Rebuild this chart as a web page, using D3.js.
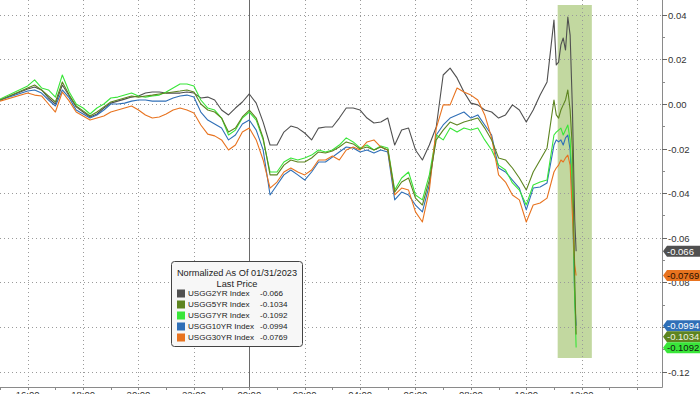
<!DOCTYPE html>
<html><head><meta charset="utf-8">
<script src="https://cdn.jsdelivr.net/npm/d3@7"></script>
<style>html,body{margin:0;padding:0;background:#fff;overflow:hidden}svg{display:block;font-family:"Liberation Sans",Arial,sans-serif}</style>
</head><body><svg id="c" width="700" height="394"></svg>
<script>
// ---------- DATA ----------
const times = ["15:00",
"16:00","16:15","16:30","16:45","17:00","17:15","17:30","17:45","18:00","18:15","18:30","18:45","19:00","19:15","19:30","19:45",
"20:00","20:15","20:30","20:45","21:00","21:15","21:30","21:45","22:00","22:15","22:30","22:45","23:00","23:15","23:30","23:45",
"00:00","00:15","00:30","00:45","01:00","01:15","01:30","01:45","02:00","02:15","02:30","02:45","03:00","03:15","03:30","03:45",
"04:00","04:15","04:30","04:45","05:00","05:15","05:30","05:45","06:00","06:15","06:30","06:45","07:00","07:15","07:30","07:45",
"08:00","08:15","08:30","08:45","09:00","09:15","09:30","09:45","10:00","10:15","10:30","10:45",
"11:00","11:05","11:10","11:15","11:20","11:25","11:30","11:35","11:40","11:45","11:48"];

const usgg2yr = [0.0018,
0.0067,0.0076,0.0063,0.0027,0.0000,0.0085,0.0036,-0.0013,-0.0036,-0.0058,
-0.0045,-0.0018,0.0004,0.0013,0.0022,0.0031,0.0036,0.0049,0.0054,0.0054,
0.0049,0.0049,0.0049,0.0054,0.0049,0.0027,0.0031,0.0018,-0.0027,-0.0049,
-0.0018,0.0009,0.0045,0.0004,-0.0081,-0.0184,-0.0184,-0.0126,-0.0099,-0.0108,
-0.0130,-0.0161,-0.0108,-0.0103,-0.0103,-0.0063,-0.0018,-0.0018,-0.0027,-0.0063,
-0.0085,-0.0081,-0.0063,-0.0184,-0.0117,-0.0108,-0.0206,-0.0251,-0.0184,-0.0103,
0.0130,0.0161,0.0117,0.0054,0.0004,-0.0004,-0.0027,-0.0036,-0.0063,-0.0049,
-0.0004,-0.0027,-0.0081,-0.0027,0.0040,0.0099,
0.0377,0.0175,0.0188,0.0265,0.0296,0.0242,0.0390,0.0309,-0.0027,-0.0520,-0.066];

const usgg5yr = [0.0018,
0.0072,0.0085,0.0063,0.0036,0.0009,0.0099,0.0040,-0.0009,-0.0031,-0.0054,
-0.0036,-0.0013,0.0009,0.0018,0.0027,0.0036,0.0031,0.0036,0.0040,0.0045,
0.0049,0.0054,0.0058,0.0063,0.0054,0.0000,-0.0027,-0.0036,-0.0063,-0.0126,
-0.0108,-0.0058,-0.0027,-0.0063,-0.0152,-0.0318,-0.0318,-0.0274,-0.0251,-0.0260,
-0.0260,-0.0242,-0.0215,-0.0220,-0.0211,-0.0193,-0.0170,-0.0179,-0.0202,-0.0193,
-0.0206,-0.0193,-0.0206,-0.0395,-0.0350,-0.0332,-0.0422,-0.0453,-0.0341,-0.0161,
-0.0117,-0.0081,-0.0094,-0.0081,-0.0072,-0.0063,-0.0108,-0.0161,-0.0242,-0.0251,
-0.0287,-0.0332,-0.0386,-0.0305,-0.0251,-0.0197,
0.0018,-0.0049,-0.0063,-0.0027,-0.0004,0.0018,0.0063,-0.0027,-0.0206,-0.0789,-0.1034];

const usgg7yr = [0.0022,
0.0081,0.0108,0.0072,0.0063,0.0031,0.0130,0.0054,0.0000,-0.0018,-0.0045,
-0.0018,0.0000,0.0027,0.0031,0.0040,0.0049,0.0036,0.0031,0.0036,0.0040,
0.0054,0.0072,0.0090,0.0090,0.0081,0.0018,-0.0018,-0.0027,-0.0063,-0.0139,
-0.0117,-0.0063,-0.0036,-0.0072,-0.0161,-0.0305,-0.0305,-0.0260,-0.0242,-0.0251,
-0.0242,-0.0229,-0.0206,-0.0215,-0.0206,-0.0184,-0.0152,-0.0170,-0.0197,-0.0184,
-0.0206,-0.0188,-0.0197,-0.0386,-0.0332,-0.0305,-0.0408,-0.0430,-0.0318,-0.0139,
-0.0161,-0.0108,-0.0126,-0.0108,-0.0117,-0.0108,-0.0161,-0.0206,-0.0274,-0.0296,
-0.0354,-0.0386,-0.0453,-0.0363,-0.0350,-0.0341,
-0.0139,-0.0126,-0.0117,-0.0108,-0.0139,-0.0117,-0.0094,-0.0161,-0.0386,-0.0879,-0.1092];

const usgg10yr = [0.0018,
0.0058,0.0063,0.0049,0.0018,-0.0009,0.0063,0.0027,-0.0027,-0.0045,-0.0063,
-0.0049,-0.0027,0.0000,0.0000,0.0004,0.0013,0.0018,0.0018,0.0013,0.0013,
0.0013,0.0027,0.0036,0.0040,0.0031,-0.0036,-0.0072,-0.0090,-0.0108,-0.0161,
-0.0139,-0.0090,-0.0072,-0.0117,-0.0206,-0.0408,-0.0363,-0.0318,-0.0296,-0.0318,
-0.0341,-0.0305,-0.0260,-0.0260,-0.0238,-0.0215,-0.0193,-0.0197,-0.0215,-0.0206,
-0.0220,-0.0206,-0.0215,-0.0430,-0.0395,-0.0408,-0.0453,-0.0484,-0.0363,-0.0139,
-0.0094,-0.0063,-0.0049,-0.0036,-0.0063,-0.0049,-0.0094,-0.0139,-0.0287,-0.0305,
-0.0341,-0.0377,-0.0475,-0.0377,-0.0372,-0.0354,
-0.0184,-0.0161,-0.0170,-0.0161,-0.0184,-0.0152,-0.0139,-0.0206,-0.0430,-0.0879,-0.0994];

const usgg30yr = [0.0013,
0.0049,0.0040,0.0036,0.0000,-0.0036,0.0054,0.0013,-0.0036,-0.0054,-0.0072,
-0.0063,-0.0054,-0.0036,-0.0027,-0.0018,-0.0009,-0.0027,-0.0049,-0.0063,-0.0058,
-0.0045,-0.0027,-0.0018,-0.0027,-0.0040,-0.0094,-0.0135,-0.0143,-0.0161,-0.0206,
-0.0184,-0.0126,-0.0108,-0.0161,-0.0251,-0.0377,-0.0350,-0.0305,-0.0287,-0.0305,
-0.0318,-0.0296,-0.0251,-0.0251,-0.0233,-0.0251,-0.0206,-0.0193,-0.0206,-0.0170,
-0.0161,-0.0193,-0.0206,-0.0408,-0.0377,-0.0386,-0.0484,-0.0529,-0.0386,-0.0108,
-0.0004,-0.0004,0.0072,0.0054,0.0040,0.0018,-0.0049,-0.0152,-0.0318,-0.0350,
-0.0408,-0.0430,-0.0529,-0.0453,-0.0444,-0.0422,
-0.0305,-0.0287,-0.0274,-0.0251,-0.0260,-0.0242,-0.0229,-0.0274,-0.0498,-0.0722,-0.0769];

const seriesNames = ["USGG2YR Index","USGG5YR Index","USGG7YR Index","USGG10YR Index","USGG30YR Index"];
const lastPrices = ["-0.066","-0.1034","-0.1092","-0.0994","-0.0769"];
const xTickLabels = ["16:00","18:00","20:00","22:00","00:00","02:00","04:00","06:00","08:00","10:00","12:00"];
const xGridExtra = ["14:00"];
const yTicks = [0.04,0.02,0.00,-0.02,-0.04,-0.06,-0.08,-0.10,-0.12];
const legendTitle = ["Normalized As Of 01/31/2023","Last Price"];
const highlightSpan = ["11:08","12:22"];
const highlightRange = [0.0444,-0.1139];
const dayBreak = "00:00";

// ---------- STYLE ----------
const colors = ["#505050","#5d8420","#39e639","#2f6fb7","#e8731f"];
const labelText = ["#ffffff","#f0f0e0","#102010","#ffffff","#2a1000"];
const W = 700, H = 394, plotR = 662, plotB = 387;

function parseT(s){const [h,m]=s.split(":").map(Number);return new Date(2023,0,h>=15?30:31,h,m);}

const svg = d3.select("#c");
const x = d3.scaleTime().domain([new Date(2023,0,30,15,0), new Date(2023,0,31,14,54)]).range([0, plotR]);
const y = d3.scaleLinear().domain([-0.12691, 0.04664]).range([plotB, 0]);

// highlight
svg.append("rect")
  .attr("x", x(parseT(highlightSpan[0]))).attr("y", y(highlightRange[0]))
  .attr("width", x(parseT(highlightSpan[1])) - x(parseT(highlightSpan[0])))
  .attr("height", y(highlightRange[1]) - y(highlightRange[0]))
  .attr("fill", "#c2d8a0");

// gridlines
const g = svg.append("g");
yTicks.forEach(v => {
  g.append("line").attr("x1",0).attr("x2",plotR).attr("y1",Math.round(y(v))+0.5).attr("y2",Math.round(y(v))+0.5)
   .attr("stroke","#9a9a9a").attr("stroke-width",1).attr("stroke-dasharray","1,3");
});
xTickLabels.concat(xGridExtra).forEach(t => {
  const px = Math.round(x(parseT(t)))+0.5;
  g.append("line").attr("x1",px).attr("x2",px).attr("y1",0).attr("y2",plotB)
   .attr("stroke","#9a9a9a").attr("stroke-width",1).attr("stroke-dasharray","1,3");
});
// day break
const db = Math.round(x(parseT(dayBreak)))+0.5;
svg.append("line").attr("x1",db).attr("x2",db).attr("y1",0).attr("y2",plotB).attr("stroke","#6a6a6a").attr("stroke-width",1);

// lines
const data = [usgg2yr, usgg5yr, usgg7yr, usgg10yr, usgg30yr];
const tDates = times.map(parseT);
const line = d3.line().x((d,i)=>x(tDates[i])).y(d=>y(d));
[0,3,2,4,1].forEach(k => {
  svg.append("path").datum(data[k]).attr("d", line).attr("fill","none")
    .attr("stroke", colors[k]).attr("stroke-width",1.1).attr("stroke-linejoin","round");
});

// axes
svg.append("line").attr("x1",plotR+0.5).attr("x2",plotR+0.5).attr("y1",0).attr("y2",plotB+0.5).attr("stroke","#8a8a8a");
svg.append("line").attr("x1",0).attr("x2",plotR+0.5).attr("y1",plotB+0.5).attr("y2",plotB+0.5).attr("stroke","#8a8a8a");
const yMinor = d3.range(-0.12, 0.0401, 0.01);
yMinor.forEach(v => {
  const py = Math.round(y(v))+0.5;
  svg.append("line").attr("x1",plotR).attr("x2",plotR+3).attr("y1",py).attr("y2",py).attr("stroke","#8a8a8a");
});
yTicks.forEach(v => {
  const py = Math.round(y(v))+0.5;
  svg.append("line").attr("x1",plotR).attr("x2",plotR+5).attr("y1",py).attr("y2",py).attr("stroke","#666");
  svg.append("text").attr("x",plotR+6).attr("y",py).attr("dy","0.35em").attr("font-size",9.5).attr("fill","#333")
    .text(d3.format(".2f")(v).replace("−","-"));
});
x.ticks(d3.timeHour.every(1)).forEach(t => {
  const px = Math.round(x(t))+0.5;
  if (px < plotR) svg.append("line").attr("x1",px).attr("x2",px).attr("y1",plotB).attr("y2",plotB+3).attr("stroke","#8a8a8a");
});
xTickLabels.forEach(t => {
  svg.append("text").attr("x", x(parseT(t))).attr("y", 398).attr("text-anchor","middle").attr("font-size",9.5).attr("fill","#333").text(t);
});

// right value labels
const lab = lastPrices.map((s,i)=>({i, v:+s, s, py:y(+s)})).sort((a,b)=>a.py-b.py);
for (let k=1;k<lab.length;k++){ if (lab[k].py - lab[k-1].py < 11) lab[k].py = lab[k-1].py + 11; }
lab.forEach(d => {
  const x0 = plotR+1, h = 5.5, yc = d.py;
  svg.append("path").attr("d", `M${x0},${yc} L${x0+4},${yc-h} L${W},${yc-h} L${W},${yc+h} L${x0+4},${yc+h} Z`)
    .attr("fill", colors[d.i]);
  svg.append("text").attr("x", x0+4).attr("y", yc).attr("dy","0.36em").attr("font-size",9.5)
    .attr("fill", labelText[d.i]).text(d.s);
});

// legend
const L = svg.append("g");
L.append("rect").attr("x",171.5).attr("y",261.5).attr("width",131).attr("height",85).attr("rx",3)
  .attr("fill","#f7f7f7").attr("stroke","#444");
L.append("text").attr("x",237).attr("y",275.5).attr("text-anchor","middle").attr("font-size",9.2).attr("fill","#222").text(legendTitle[0]);
L.append("text").attr("x",237).attr("y",286.5).attr("text-anchor","middle").attr("font-size",9.2).attr("fill","#222").text(legendTitle[1]);
seriesNames.forEach((n,i) => {
  const cy = 293.5 + i*11;
  L.append("rect").attr("x",177).attr("y",cy-4).attr("width",8).attr("height",8).attr("fill",colors[i]);
  L.append("text").attr("x",188).attr("y",cy).attr("dy","0.35em").attr("font-size",8.1).attr("fill","#222").text(n);
  L.append("text").attr("x",260).attr("y",cy).attr("dy","0.35em").attr("font-size",8.1).attr("fill","#222").text(lastPrices[i]);
});
</script></body></html>
